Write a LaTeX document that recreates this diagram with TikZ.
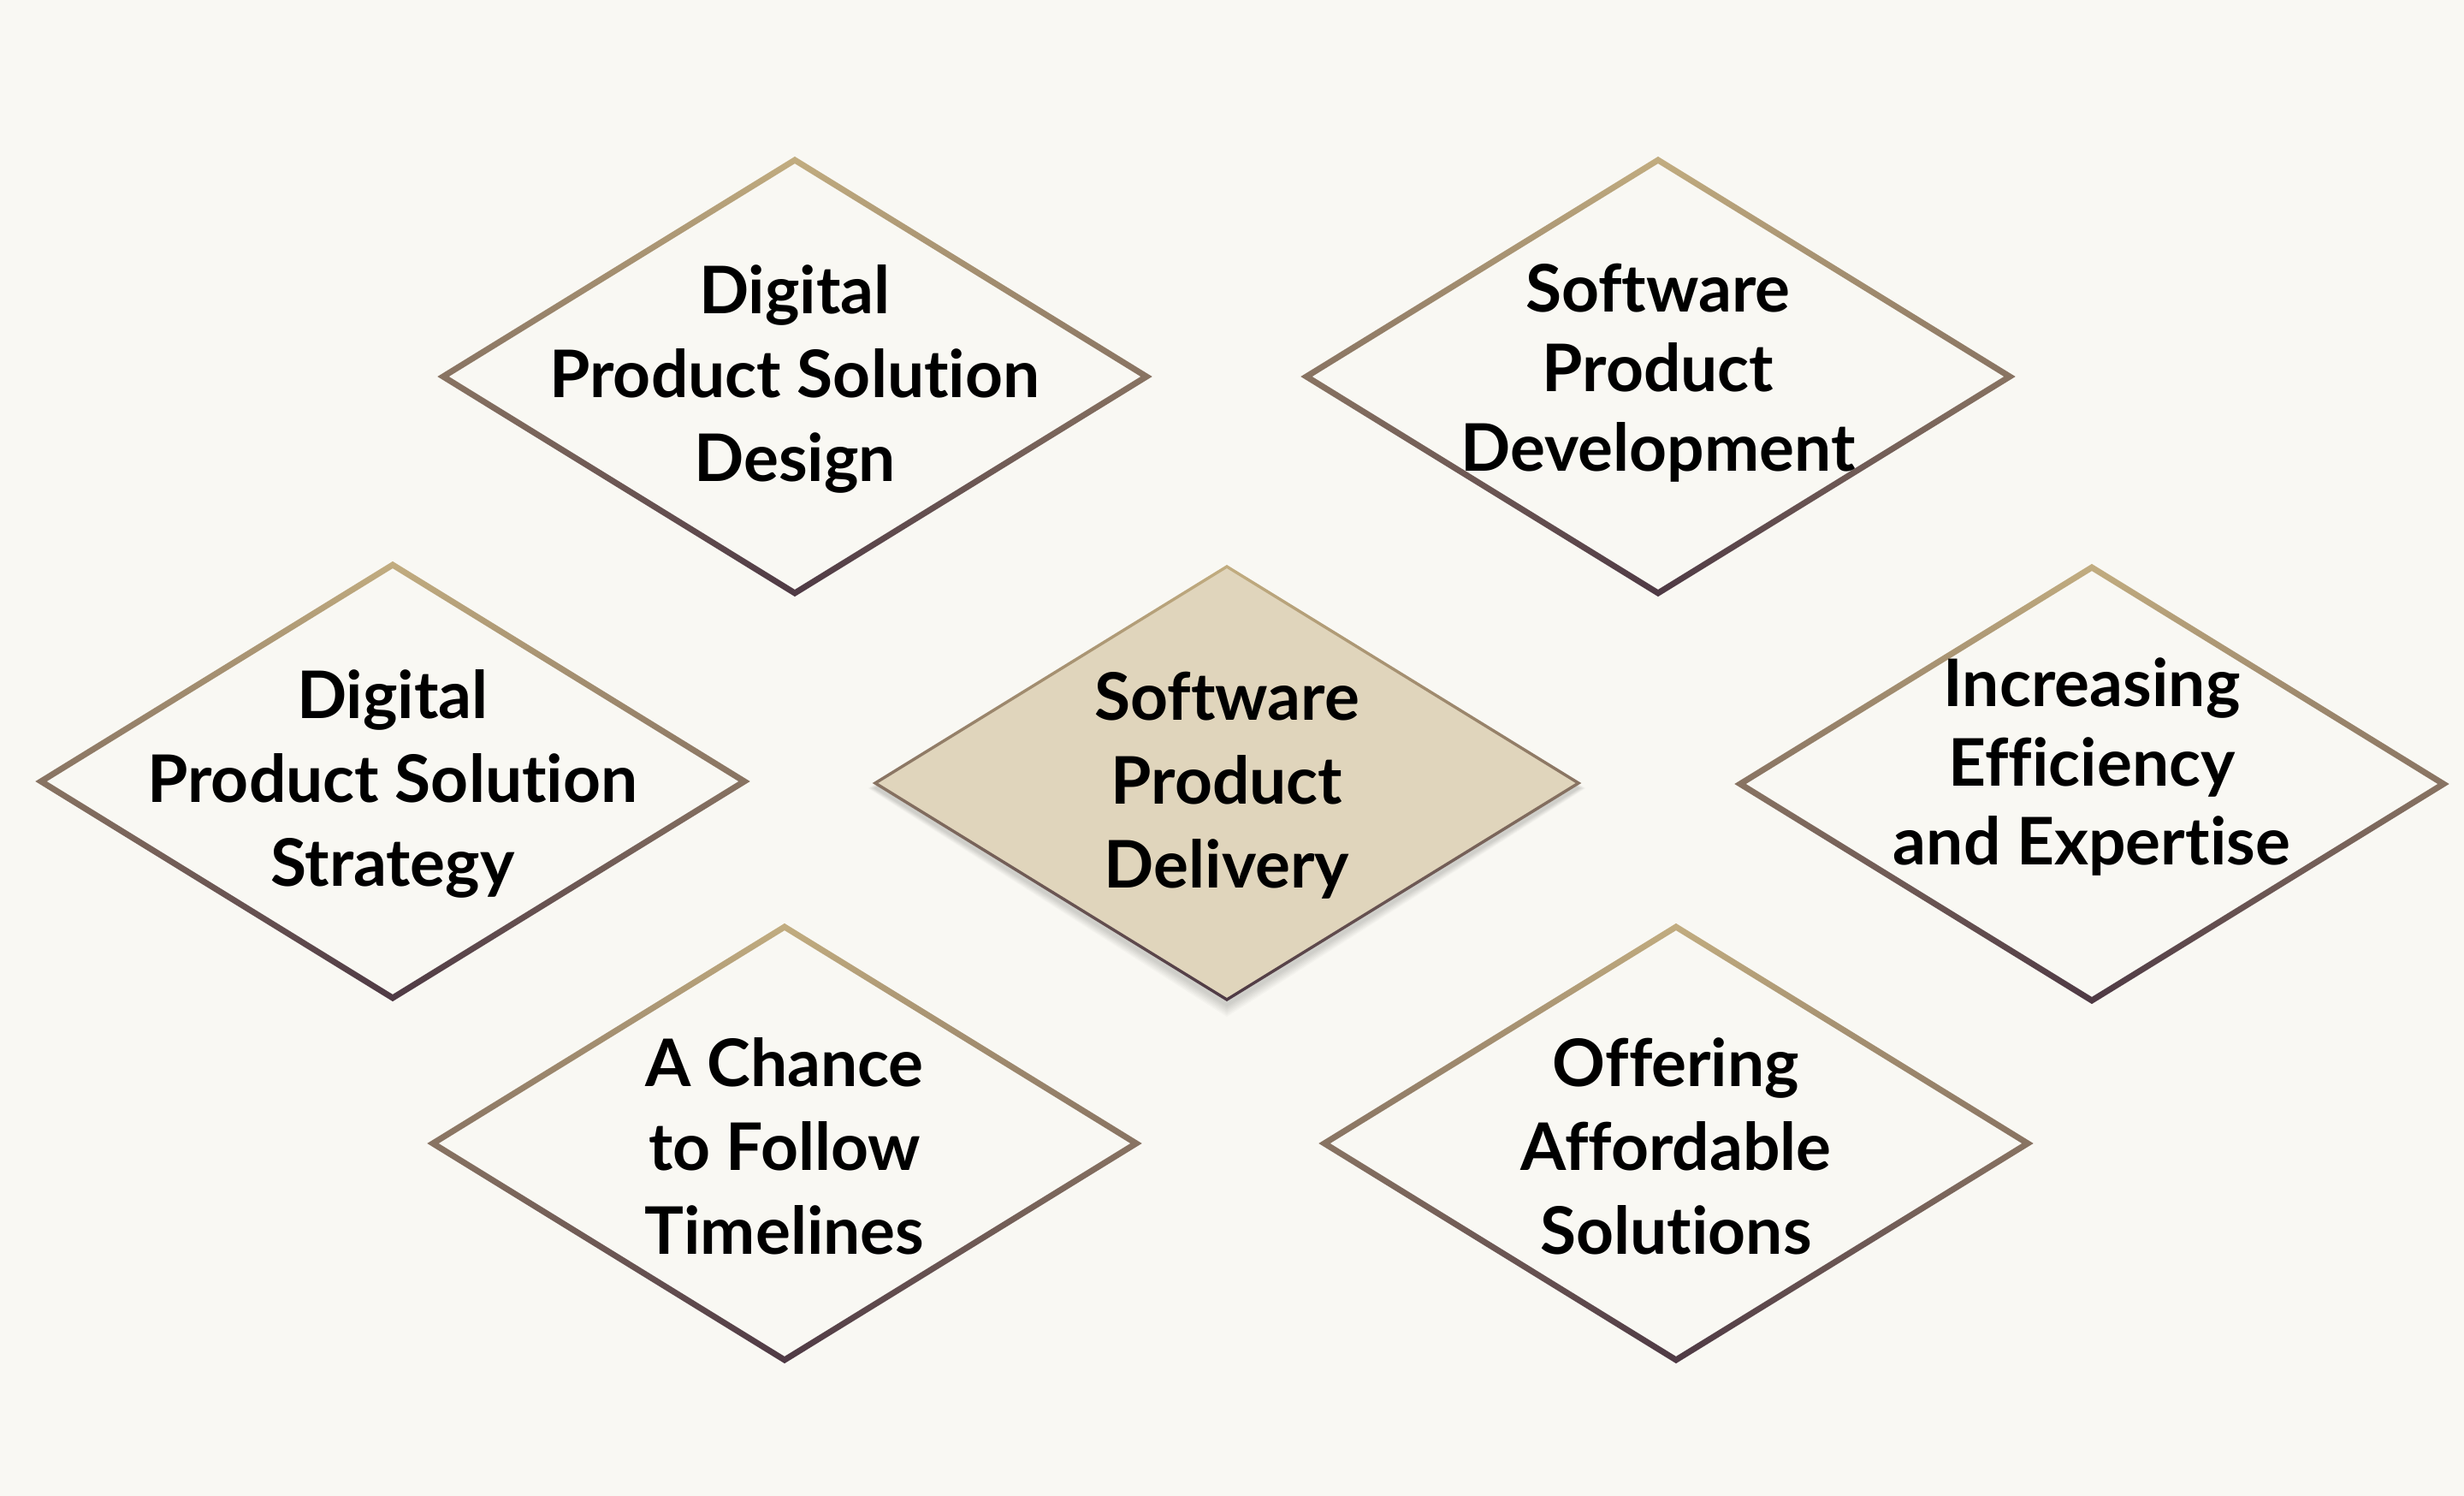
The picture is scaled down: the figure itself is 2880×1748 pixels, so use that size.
\documentclass[tikz,border=0pt]{standalone}
\usepackage{fontspec}
\setmainfont{Lato}[Ligatures=NoCommon]
\usepackage{tikz}
\usetikzlibrary{calc}
\definecolor{pageBg}{HTML}{F9F8F3}
\definecolor{frameTop}{HTML}{C2AD80}
\definecolor{frameBottom}{HTML}{4E3944}
\definecolor{coreFill}{HTML}{E0D5BC}
\tikzstyle{gemText} = [align=center, inner sep=0pt, text=black, font=\fontsize{21.8}{27.9}\selectfont\bfseries]
\tikzstyle{tightText} = [align=center, inner sep=0pt, text=black, font=\fontsize{21.8}{26.4}\selectfont\bfseries]
% diamond outline with a vertical colour fade: centre, tip offset N/S, tip offset E/W
\newcommand{\gemFrame}[3]{%
  \shade[top color=frameTop, bottom color=frameBottom, even odd rule]
    ($(#1)+(0,-253-#2)$) -- ($(#1)+(411+#3,0)$) -- ($(#1)+(0,253+#2)$) -- ($(#1)+(-411-#3,0)$) -- cycle
    ($(#1)+(0,-253+#2)$) -- ($(#1)+(411-#3,0)$) -- ($(#1)+(0,253-#2)$) -- ($(#1)+(-411+#3,0)$) -- cycle;
}

\begin{document}
\begin{tikzpicture}[x=0.01cm, y=-0.01cm]
\fill [pageBg] (0,0) rectangle (2880,1748);
% centres of the diamonds
\coordinate (designC) at (929,440);
\coordinate (developC) at (1938,440);
\coordinate (strategyC) at (459,913);
\coordinate (deliveryC) at (1434,915);
\coordinate (expertC) at (2445,916);
\coordinate (timelineC) at (917,1336);
\coordinate (affordC) at (1959,1336);

% soft shadow under the middle one
\foreach \s in {2,4,...,14}
  \fill [black, opacity=0.025] ($(deliveryC)+(0,-253+6)$) -- ($(deliveryC)+(411+\s*0.6,6)$) -- ($(deliveryC)+(0,253+6+\s)$) -- ($(deliveryC)+(-411-\s*0.6,6)$) -- cycle;
\fill [coreFill] ($(deliveryC)+(0,-253)$) -- ($(deliveryC)+(411,0)$) -- ($(deliveryC)+(0,253)$) -- ($(deliveryC)+(-411,0)$) -- cycle;

\gemFrame{designC}{4.1}{6.7}
\gemFrame{developC}{4.1}{6.7}
\gemFrame{strategyC}{4.1}{6.7}
\gemFrame{expertC}{4.1}{6.7}
\gemFrame{timelineC}{4.1}{6.7}
\gemFrame{affordC}{4.1}{6.7}
\gemFrame{deliveryC}{2}{3.3}

\node (design) [gemText] at ($(designC)+(0,3)$) {Digital\\Product Solution\\Design};
\node (develop) [tightText] at ($(developC)+(0,-4)$) {Software\\Product\\Development};
\node (strategy) [gemText] at ($(strategyC)+(0,3)$) {Digital\\Product Solution\\Strategy};
\node (delivery) [gemText] at ($(deliveryC)+(0,3)$) {Software\\Product\\Delivery};
\node (expert) [tightText] at ($(expertC)+(0,-20)$) {Increasing\\Efficiency\\and Expertise};
\node (timeline) [gemText] at ($(timelineC)+(0,3)$) {A Chance\\to Follow\\Timelines};
\node (afford) [gemText] at ($(affordC)+(0,3)$) {Offering\\Affordable\\Solutions};
\end{tikzpicture}
\end{document}
